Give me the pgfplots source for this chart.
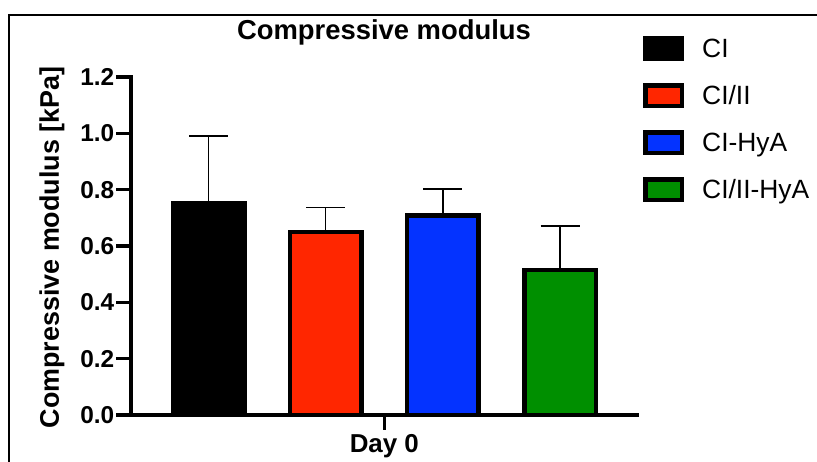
\documentclass[border=0pt]{standalone}
\usepackage{fontspec}
\setmainfont{Liberation Sans}
\usepackage{pgfplots}
\pgfplotsset{compat=1.18}
\definecolor{gpred}{RGB}{255,38,0}
\definecolor{gpblue}{RGB}{4,51,255}
\definecolor{gpgreen}{RGB}{0,143,0}

\begin{document}
\begin{tikzpicture}
\path[use as bounding box] (0,0) rectangle (817bp,462bp);
\begin{scope}
  \clip (0,0) rectangle (817bp,462bp);
  \draw[line width=1.5bp] (9bp,-5bp) -- (9bp,447bp) -- (830bp,447bp);
\end{scope}
\begin{axis}[
  at={(131bp,47bp)}, anchor=south west,
  scale only axis, width=506bp, height=338bp,
  xmin=-0.6613, xmax=3.656, ymin=0, ymax=1.2,
  axis x line*=bottom, axis y line*=left,
  axis line style={line width=3.5bp, line cap=rect},
  tick style={line width=3.5bp, black},
  major tick length=14.5bp, tick align=outside,
  xtick={1.5}, xticklabels={Day 0},
  ytick={0,0.2,0.4,0.6,0.8,1.0,1.2},
  /pgf/number format/assume math mode=true,
  y tick label style={/pgf/number format/.cd, fixed, fixed zerofill, precision=1, /tikz/.cd},
  yticklabel style={font=\bfseries\fontsize{24.5}{28}\selectfont, anchor=east, inner sep=0pt, xshift=-2bp},
  xticklabel style={font=\bfseries\fontsize{26}{30}\selectfont, anchor=base, inner sep=0pt, yshift=-23bp},
  title={Compressive modulus},
  title style={font=\bfseries\fontsize{27.5}{30}\selectfont, at={(0.5,1)}, anchor=base, yshift=32bp},
  ylabel={Compressive modulus [kPa]},
  ylabel style={font=\bfseries\fontsize{27}{30}\selectfont, at={(axis description cs:-0.1423,0.4956)}, anchor=base},
  legend cell align=left,
  legend style={at={(1.0119,1.1213)}, anchor=north west, draw=none, fill=none,
    inner sep=0pt, row sep=22bp, column sep=18bp,
    font=\fontsize{26.5}{30}\selectfont, nodes={inner sep=0pt}},
  legend image code/.code={\draw[#1, line width=4.5bp] (0bp,-10.25bp) rectangle (36.5bp,10.25bp);},
  error bars/error bar style={line width=1.5bp, black},
  error bars/error mark options={rotate=90, line width=1.5bp, mark size=19.5bp, black},
]
\addplot[ybar, bar width=71.5bp, bar shift=0pt, fill=black, draw=black, line width=4.5bp,
  error bars/.cd, y dir=plus, y explicit]
  coordinates {(0,0.753) +- (0,0.237)};
\addlegendentry{CI}
\addplot[ybar, bar width=71.5bp, bar shift=0pt, fill=gpred, draw=black, line width=4.5bp,
  error bars/.cd, y dir=plus, y explicit]
  coordinates {(1,0.649) +- (0,0.087)};
\addlegendentry{CI/II}
\addplot[ybar, bar width=71.5bp, bar shift=0pt, fill=gpblue, draw=black, line width=4.5bp,
  error bars/.cd, y dir=plus, y explicit]
  coordinates {(2,0.709) +- (0,0.093)};
\addlegendentry{CI-HyA}
\addplot[ybar, bar width=71.5bp, bar shift=0pt, fill=gpgreen, draw=black, line width=4.5bp,
  error bars/.cd, y dir=plus, y explicit]
  coordinates {(3,0.514) +- (0,0.157)};
\addlegendentry{CI/II-HyA}
\end{axis}
\end{tikzpicture}
\end{document}
